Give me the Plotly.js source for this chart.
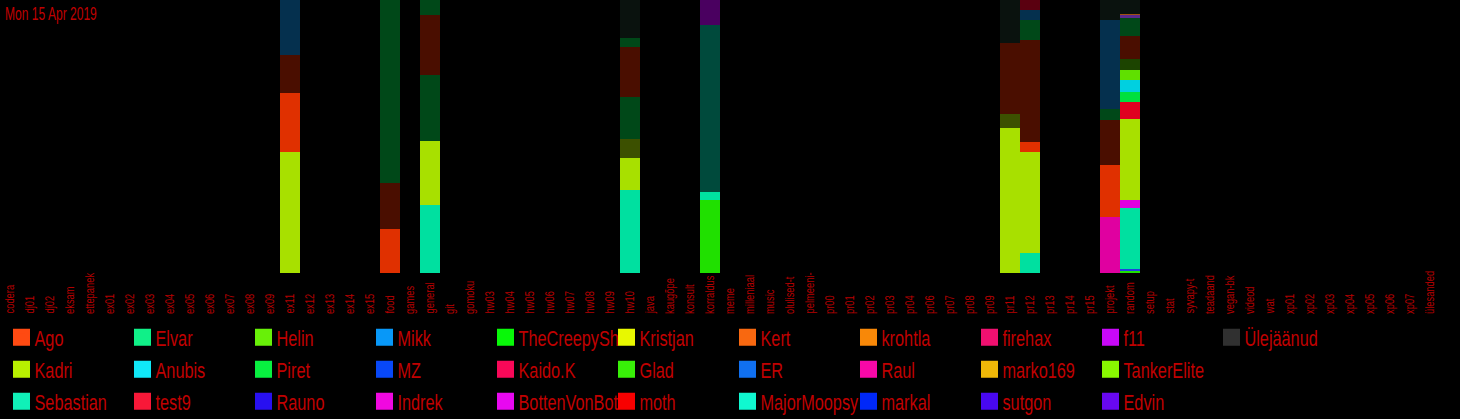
<!DOCTYPE html>
<html><head><meta charset="utf-8">
<script src="https://cdn.plot.ly/plotly-3.0.1.min.js"></script>
<style>html,body{margin:0;padding:0;background:#000;overflow:hidden;} #chart{width:1460px;height:419px;}</style>
</head><body><div id="chart"></div>
<script>
// ---------- data ----------
const titleText = 'Mon 15 Apr 2019';
const categories = ['codera','dj01','dj02','eksam','ettepanek','ex01','ex02','ex03','ex04','ex05','ex06','ex07','ex08','ex09','ex11','ex12','ex13','ex14','ex15','food','games','general','git','gomoku','hw03','hw04','hw05','hw06','hw07','hw08','hw09','hw10','java','kaugõpe','konsult','korraldus','meme','milleniaal','music','olulised-t','pelmeeni-','pr00','pr01','pr02','pr03','pr04','pr06','pr07','pr08','pr09','pr11','pr12','pr13','pr14','pr15','projekt','random','setup','stat','syvapy-t','teadaand','vegan-bk','videod','wat','xp01','xp02','xp03','xp04','xp05','xp06','xp07','ülesanded'];
const activeChannels = ['ex11','food','general','hw10','korraldus','pr11','pr12','projekt','random'];

// share of messages (%) per active channel, in activeChannels order
const valGlad      = [0, 0, 0, 0, 26.7, 0, 0, 0, 0.8];
const valMZ        = [0, 0, 0, 0, 0, 0, 0, 0, 0.5];
const valRaul      = [0, 0, 0, 0, 0, 0, 0, 20.4, 0];
const valSebastian = [0, 0, 25.0, 30.4, 2.9, 0, 7.2, 0, 22.5];
const valIndrek    = [0, 0, 0, 0, 0, 0, 0, 0, 2.9];
const valKadri     = [44.1, 0, 23.3, 11.7, 0, 53.1, 37.1, 0, 29.7];
const valAgo       = [21.7, 16.2, 0, 0, 0, 0, 3.7, 19.3, 0];
const valTest9     = [0, 0, 0, 0, 0, 0, 0, 0, 6.2];
const valPiret     = [0, 0, 0, 0, 0, 0, 0, 0, 3.8];
const valAnubis    = [0, 0, 0, 0, 0, 0, 0, 0, 4.3];
const valHelin     = [0, 0, 0, 0, 0, 0, 0, 0, 3.7];
// other (unlisted) users
const valOther1  = [0, 0, 0, 6.8, 0, 5.0, 0, 0, 0];
const valOther2  = [0, 0, 0, 0, 0, 0, 0, 0, 3.9];
const valOther3  = [0, 0, 24.3, 15.5, 0, 0, 0, 0, 0];
const valOther4  = [13.8, 16.7, 21.9, 18.4, 0, 26.2, 37.4, 16.4, 8.5];
const valOther5  = [0, 67.0, 5.5, 3.3, 0, 0, 7.3, 3.9, 6.6];
const valOther6  = [20.1, 0, 0, 0, 0, 0, 3.7, 32.7, 0];
const valOther7  = [0, 0, 0, 0, 0, 0, 3.7, 0, 0];
const valOther8  = [0, 0, 0, 0, 61.2, 0, 0, 0, 0];
const valOther9  = [0, 0, 0, 0, 9.2, 0, 0, 0, 0];
const valOther10 = [0, 0, 0, 0, 0, 0, 0, 0, 1.1];
const valOther11 = [0, 0, 0, 0, 0, 0, 0, 0, 0.4];
const valOther12 = [0, 0, 0, 13.8, 0, 15.6, 0, 7.3, 5.1];

// legend layout (rows of the legend grid)
const legendRow1 = ['Ago','Elvar','Helin','Mikk','TheCreepySh','Kristjan','Kert','krohtla','firehax','f11','Ülejäänud'];
const legendRow2 = ['Kadri','Anubis','Piret','MZ','Kaido.K','Glad','ER','Raul','marko169','TankerElite'];
const legendRow3 = ['Sebastian','test9','Rauno','Indrek','BottenVonBot','moth','MajorMoopsy','markal','sutgon','Edvin'];

// ---------- styles ----------
const legendColors = {
  'Ago':'#ff4a12','Kadri':'#b8f000','Sebastian':'#10f0b8','Elvar':'#10f088','Anubis':'#10e8f8','test9':'#f81838',
  'Helin':'#68f008','Piret':'#08f040','Rauno':'#2810f0','Mikk':'#0898f8','MZ':'#0848f8','Indrek':'#f008e0',
  'TheCreepySh':'#08f808','Kaido.K':'#f80858','BottenVonBot':'#e808f0','Kristjan':'#e8f800','Glad':'#38f008',
  'moth':'#f80000','Kert':'#f86810','ER':'#1070f0','MajorMoopsy':'#10f8d0','krohtla':'#f88808','Raul':'#f808a8',
  'markal':'#0028f8','firehax':'#f01070','marko169':'#f0b808','sutgon':'#4808f0','f11':'#c808f8',
  'TankerElite':'#88f800','Edvin':'#6808f0','Ülejäänud':'#303030'
};
const barColors = {
  'Glad':'#20e000','MZ':'#2040e0','Raul':'#e000a0','Sebastian':'#00e0a0','Indrek':'#e000e0','Kadri':'#a8e000',
  'Ago':'#e03000','test9':'#e00020','Piret':'#00e040','Anubis':'#00d0e0','Helin':'#60e000'
};
// stacking order, bottom to top
const stackOrder = [
  ['Glad', valGlad], ['MZ', valMZ], ['Raul', valRaul], ['Sebastian', valSebastian], ['Indrek', valIndrek],
  ['Kadri', valKadri], ['Ago', valAgo], ['test9', valTest9], ['Piret', valPiret], ['Anubis', valAnubis],
  ['Helin', valHelin],
  ['muu 1', valOther1, '#3c5000'], ['muu 2', valOther2, '#1c4400'], ['muu 3', valOther3, '#004818'],
  ['muu 4', valOther4, '#4a0e00'], ['muu 5', valOther5, '#004818'], ['muu 6', valOther6, '#05304e'],
  ['muu 7', valOther7, '#5a0010'], ['muu 8', valOther8, '#004a3c'], ['muu 9', valOther9, '#4a0060'],
  ['muu 10', valOther10, '#5a2a8a'], ['muu 11', valOther11, '#a05010'], ['muu 12', valOther12, '#0a120e']
];

const FONT = "'Liberation Sans', Arial, sans-serif";
const TEXT_RED = '#c00000';

function expand(vals) {
  return categories.map(c => {
    const i = activeChannels.indexOf(c);
    return (vals && i >= 0) ? vals[i] : 0;
  });
}
function legendPlace(name) {
  const rows = [legendRow1, legendRow2, legendRow3];
  for (let r = 0; r < rows.length; r++) {
    const c = rows[r].indexOf(name);
    if (c >= 0) return {legend: r === 0 ? 'legend' : 'legend' + (r + 1), rank: c + 1};
  }
  return null;
}

const traces = [];
const used = new Set();
stackOrder.forEach(([name, vals, dimColor]) => {
  if (dimColor) {
    traces.push({type:'bar', name, x: categories, y: expand(vals), showlegend:false,
      marker:{color: dimColor, line:{width:0}}, hoverinfo:'name+y'});
  } else {
    used.add(name);
    const p = legendPlace(name);
    const lc = legendColors[name];
    const bc = barColors[name] || lc;
    traces.push({type:'bar', name, x: categories, y: expand(vals), legend: p.legend, legendrank: p.rank,
      marker:{color: categories.map((c,i) => i === 0 ? lc : bc),
              line:{color: lc, width: categories.map((c,i) => i === 0 ? 5 : 0)}},
      hoverinfo:'name+y'});
  }
});
[legendRow1, legendRow2, legendRow3].flat().forEach(name => {
  if (used.has(name)) return;
  const p = legendPlace(name);
  const lc = legendColors[name];
  traces.push({type:'bar', name, x: categories, y: expand(null), legend: p.legend, legendrank: p.rank,
    marker:{color: lc, line:{color: lc, width: categories.map((c,i) => i === 0 ? 5 : 0)}},
    hoverinfo:'name+y'});
});

const PLOT_H = 273;
const toPaperY = px => (PLOT_H - px) / PLOT_H;
const legendBase = {orientation:'h', x: 1.5/1440, xanchor:'left', yanchor:'middle', entrywidth:76, entrywidthmode:'pixels',
  font:{family: FONT, size: 22, color: TEXT_RED}, bgcolor:'rgba(0,0,0,0)', borderwidth:0, traceorder:'normal'};

const annotations = categories.map(c => ({
  x: c, xref:'x', y: toPaperY(316), yref:'paper', xanchor:'center', yanchor:'bottom',
  text: c, textangle: -90, showarrow:false, font:{family: FONT, size: 13, color: '#b40000'}
}));

const layout = {
  width:1460, height:419,
  paper_bgcolor:'#000', plot_bgcolor:'#000',
  margin:{l:0, r:20, t:0, b:419 - PLOT_H, pad:0, autoexpand:false},
  barmode:'stack', barnorm:'percent', bargap:0,
  title:{text: titleText, xref:'container', x: 5/1460, xanchor:'left', yref:'container', y: 1 - 13.5/419, yanchor:'middle',
         font:{family: FONT, size: 18, color: TEXT_RED}},
  xaxis:{type:'category', categoryorder:'array', categoryarray: categories, showticklabels:false,
         showgrid:false, zeroline:false, showline:false, ticks:''},
  yaxis:{range:[0,100], visible:false},
  legend: Object.assign({}, legendBase, {y: toPaperY(337.5)}),
  legend2: Object.assign({}, legendBase, {y: toPaperY(369.5)}),
  legend3: Object.assign({}, legendBase, {y: toPaperY(401.5)}),
  annotations,
  showlegend:true
};

// narrow the (condensed-looking) text horizontally, keeping its left edge
function condense(el, s, leftAt) {
  if (el.getAttribute('data-condensed') === '1') return;
  const bb = el.getBBox();
  if (!bb.width) return;
  const L = (leftAt !== undefined) ? leftAt : bb.x;
  const prev = el.getAttribute('transform') || '';
  el.setAttribute('transform', prev + ' translate(' + (L - s * bb.x) + ',0) scale(' + s + ',1)');
  el.setAttribute('data-condensed', '1');
}
function condenseAll() {
  gd.querySelectorAll('text.legendtext, text.legend2text, text.legend3text').forEach(t => condense(t, 0.74, 33));
  gd.querySelectorAll('text.gtitle').forEach(t => condense(t, 0.67));
  gd.querySelectorAll('text.annotation-text').forEach(t => condense(t, 0.72));
}

const gd = document.getElementById('chart');
Plotly.newPlot(gd, traces, layout, {displayModeBar:false, staticPlot:true}).then(() => {
  condenseAll();
  gd.on('plotly_afterplot', condenseAll);
  setTimeout(condenseAll, 50);
});
</script>
</body></html>
